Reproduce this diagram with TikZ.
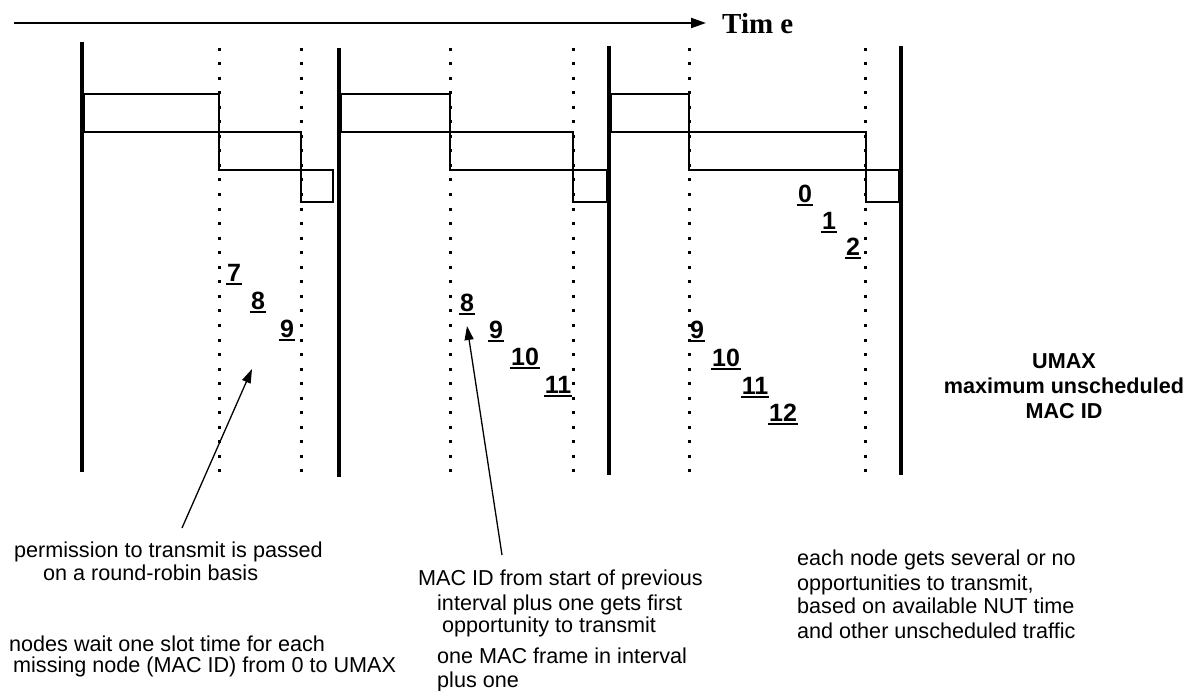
\documentclass[tikz,border=0pt]{standalone}
\usepackage{fontspec}
\setmainfont{Liberation Sans}
\newfontfamily\timesfont{Liberation Serif}
\usetikzlibrary{arrows.meta}
\newcommand\numlbl[4]{%
  \node[num] (#1) at (#2,#3) {#4};
  \draw[uline] ([xshift=-1pt,yshift=-3pt]#1.base west) -- ([xshift=1pt,yshift=-3pt]#1.base east);}
\begin{document}
\begin{tikzpicture}[x=1pt,y=-1pt,
  thickbar/.style={line width=4.5pt},
  dotline/.style={line width=3pt, dash pattern=on 3pt off 11.55pt},
  slot/.style={draw, line width=1.3pt},
  num/.style={font=\bfseries\fontsize{25}{25}\selectfont, inner sep=0pt, anchor=base},
  uline/.style={line width=2.5pt},
  lbl/.style={font=\fontsize{21.6}{22}\selectfont, inner sep=0pt, anchor=base west},
  pointer/.style={line width=1.3pt, -{Triangle[length=14pt,width=9pt]}}
]
\useasboundingbox (0,0) rectangle (1192,691);

% time axis
\coordinate (t0) at (14,23);
\coordinate (t1) at (706,23);
\draw[line width=2pt, -{Triangle[length=15pt,width=10pt]}] (t0) -- (t1);
\node[font=\timesfont\bfseries\fontsize{29}{29}\selectfont, inner sep=0pt, anchor=base west] (time) at (722,33) {Tim e};

% thick interval bars
\draw[thickbar] (82,42) -- (82,472);
\draw[thickbar] (339,48) -- (339,477);
\draw[thickbar] (609,46) -- (609,475);
\draw[thickbar] (901,46) -- (901,475);

% dotted slot lines
\foreach \x in {219,301,450,573,689,865}
  \draw[dotline] (\x,47.5) -- (\x,472.5);

% slot rectangles
\draw[slot] (84,94) rectangle (219,132);
\draw[slot] (219,132) rectangle (301,170);
\draw[slot] (301,170) rectangle (333,202);
\draw[slot] (341,94) rectangle (450,132);
\draw[slot] (450,132) rectangle (573,170);
\draw[slot] (573,170) rectangle (607,202);
\draw[slot] (611,94) rectangle (689,132);
\draw[slot] (689,132) rectangle (866,170);
\draw[slot] (866,170) rectangle (899,202);

% MAC ID numbers
\numlbl{a7}{234}{281}{7}
\numlbl{a8}{258}{309}{8}
\numlbl{a9}{287}{337}{9}
\numlbl{b8}{467}{311}{8}
\numlbl{b9}{496}{338}{9}
\numlbl{b10}{525}{365}{10}
\numlbl{b11}{558}{393}{11}
\numlbl{c0}{805}{202}{0}
\numlbl{c1}{829}{229}{1}
\numlbl{c2}{853}{255}{2}
\numlbl{c9}{697}{338}{9}
\numlbl{c10}{726}{366}{10}
\numlbl{c11}{755}{394}{11}
\numlbl{c12}{783}{421}{12}

% UMAX label
\node[font=\bfseries\fontsize{21.6}{25}\selectfont, align=center, inner sep=0pt, anchor=base] (umax) at (1064,418)
  {UMAX\\maximum unscheduled\\MAC ID};

% explanatory texts
\node[lbl] (l1) at (14,557) {permission to transmit is passed};
\node[lbl] (l2) at (43,580) {on a round-robin basis};
\node[lbl] (l3) at (9,651) {nodes wait one slot time for each};
\node[lbl] (l4) at (13,672) {missing node (MAC ID) from 0 to UMAX};
\node[lbl] (m1) at (418,585) {MAC ID from start of previous};
\node[lbl] (m2) at (437,610) {interval plus one gets first};
\node[lbl] (m3) at (442,632) {opportunity to transmit};
\node[lbl] (m4) at (437,663) {one MAC frame in interval};
\node[lbl] (m5) at (437,687) {plus one};
\node[lbl] (r1) at (797,565) {each node gets several or no};
\node[lbl] (r2) at (797,590) {opportunities to transmit,};
\node[lbl] (r3) at (797,613) {based on available NUT time};
\node[lbl] (r4) at (797,638) {and other unscheduled traffic};

% pointers
\coordinate (p1tail) at (182,528);
\coordinate (p1tip) at (252,369);
\draw[pointer] (p1tail) -- (p1tip);
\coordinate (p2tail) at (502,555);
\coordinate (p2tip) at (467,326);
\draw[pointer] (p2tail) -- (p2tip);
\end{tikzpicture}
\end{document}
